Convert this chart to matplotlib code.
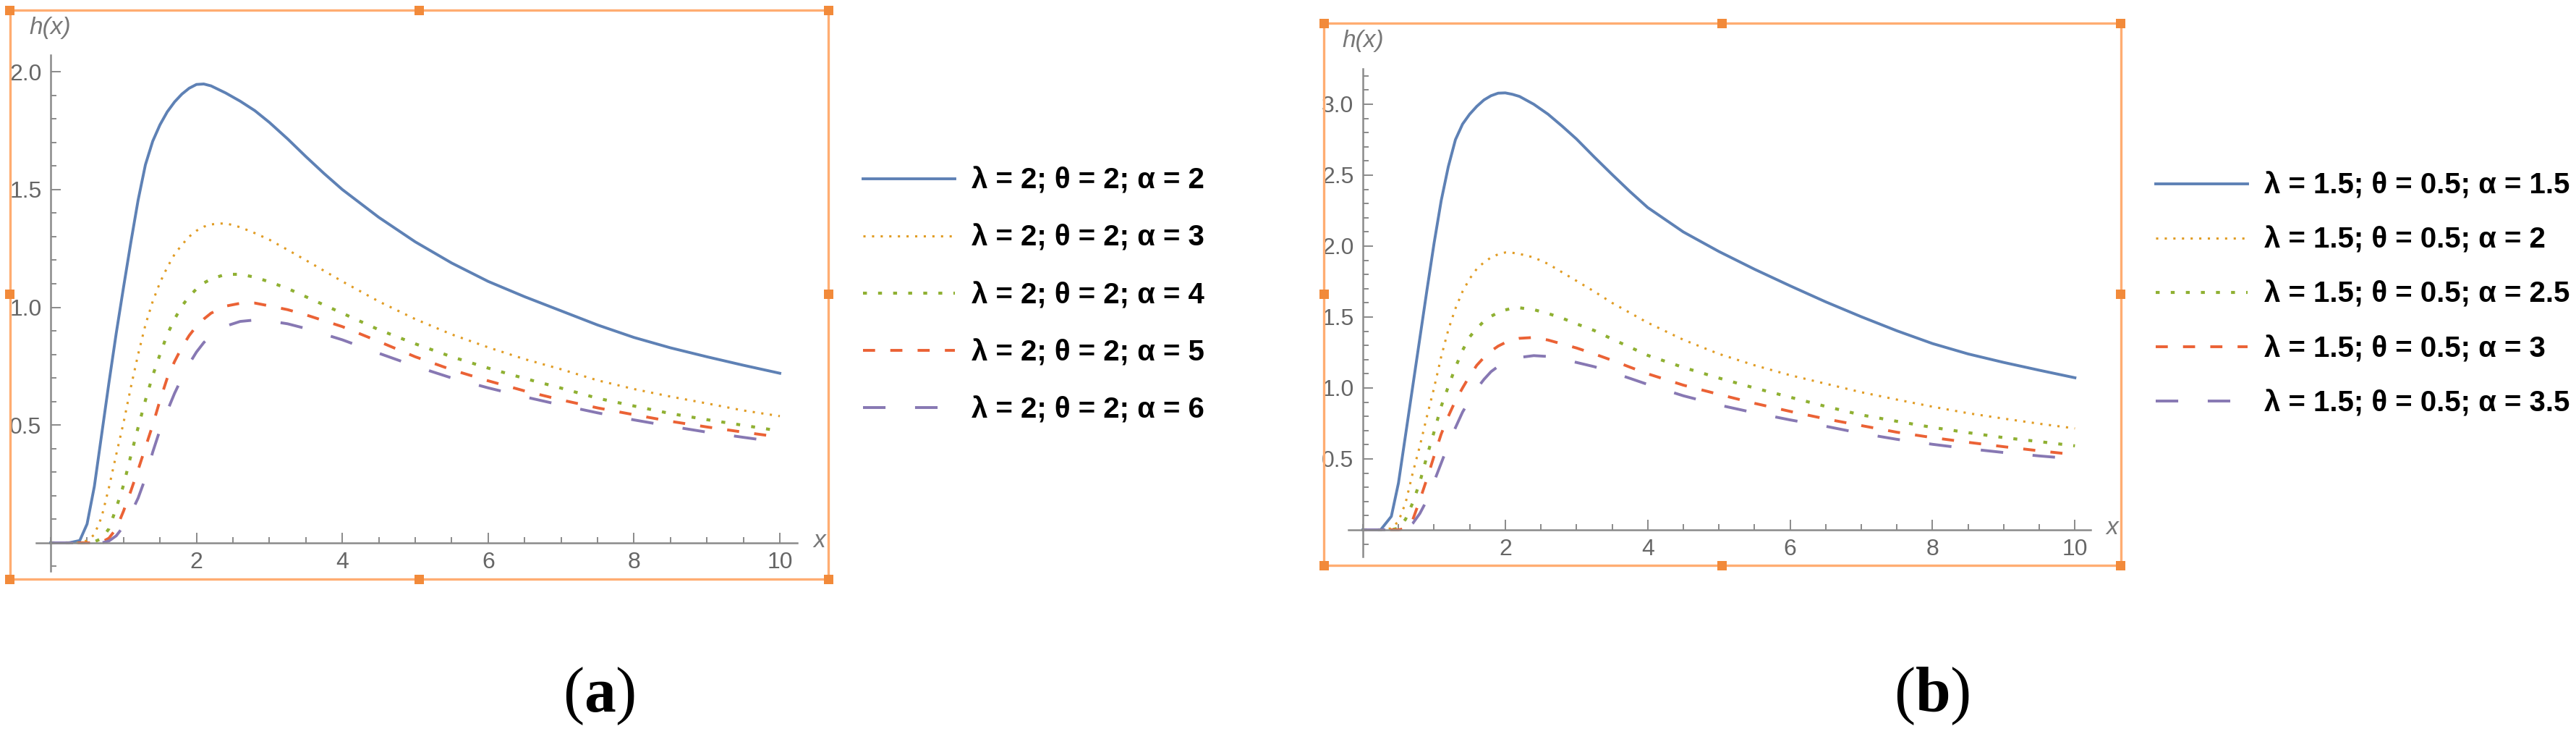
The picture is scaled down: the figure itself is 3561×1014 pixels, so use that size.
import matplotlib
matplotlib.use("Agg")
import matplotlib.pyplot as plt
from matplotlib.patches import Rectangle
from matplotlib.ticker import FixedLocator, MultipleLocator, FormatStrFormatter

plt.rcParams["font.family"] = ["Liberation Sans", "DejaVu Sans"]
plt.rcParams["mathtext.fontset"] = "custom"
plt.rcParams["mathtext.rm"] = "Liberation Serif"
plt.rcParams["mathtext.bf"] = "Liberation Serif:bold"

W, H = 3562, 1014

x_vals = [0, 0.25, 0.4, 0.5, 0.6, 0.7, 0.8, 0.9,
          1.0, 1.1, 1.2, 1.3, 1.4, 1.5, 1.6, 1.7, 1.8, 1.9,
          2.0, 2.1, 2.2, 2.4, 2.6, 2.8, 3.0, 3.25, 3.5, 3.75,
          4, 4.5, 5, 5.5, 6, 6.5, 7, 7.5, 8, 8.5, 9, 9.5, 10]

# panel (a): lambda = 2, theta = 2
h_a_alpha2 = [0, 0, 0.01, 0.08, 0.24, 0.46, 0.68, 0.89,
              1.085, 1.275, 1.455, 1.605, 1.705, 1.775, 1.83, 1.872, 1.905, 1.93,
              1.946, 1.948, 1.94, 1.91, 1.875, 1.835, 1.785, 1.715, 1.64, 1.568,
              1.50, 1.382, 1.278, 1.188, 1.11, 1.045, 0.985, 0.925, 0.872, 0.828, 0.79, 0.754, 0.72]
h_a_alpha3 = [0, 0, 0, 0.01, 0.035, 0.11, 0.235, 0.375,
              0.51, 0.66, 0.80, 0.925, 1.025, 1.105, 1.17, 1.225, 1.265, 1.30,
              1.325, 1.342, 1.352, 1.357, 1.34, 1.315, 1.287, 1.244, 1.20, 1.155,
              1.11, 1.025, 0.95, 0.885, 0.83, 0.78, 0.737, 0.69, 0.653, 0.621, 0.592, 0.562, 0.538]
h_a_alpha4 = [0, 0, 0, 0, 0.005, 0.018, 0.06, 0.148,
              0.245, 0.37, 0.49, 0.605, 0.71, 0.80, 0.885, 0.95, 1.005, 1.046,
              1.078, 1.103, 1.12, 1.14, 1.14, 1.128, 1.108, 1.08, 1.045, 1.01,
              0.975, 0.905, 0.845, 0.79, 0.742, 0.698, 0.657, 0.614, 0.581, 0.549, 0.523, 0.499, 0.475]
h_a_alpha5 = [0, 0, 0, 0, 0, 0.003, 0.02, 0.06,
              0.135, 0.22, 0.31, 0.405, 0.50, 0.605, 0.70, 0.77, 0.83, 0.88,
              0.92, 0.95, 0.975, 1.005, 1.017, 1.018, 1.006, 0.99, 0.968, 0.943,
              0.918, 0.855, 0.79, 0.735, 0.688, 0.645, 0.607, 0.573, 0.544, 0.516, 0.492, 0.47, 0.449]
h_a_alpha6 = [0, 0, 0, 0, 0, 0, 0.008, 0.03,
              0.07, 0.125, 0.19, 0.275, 0.385, 0.48, 0.56, 0.635, 0.70, 0.76,
              0.81, 0.85, 0.88, 0.92, 0.94, 0.946, 0.942, 0.93, 0.91, 0.886,
              0.862, 0.805, 0.75, 0.70, 0.658, 0.62, 0.585, 0.552, 0.522, 0.495, 0.47, 0.448, 0.427]
labels_a = ["λ = 2; θ = 2; α = 2", "λ = 2; θ = 2; α = 3", "λ = 2; θ = 2; α = 4",
            "λ = 2; θ = 2; α = 5", "λ = 2; θ = 2; α = 6"]

# panel (b): lambda = 1.5, theta = 0.5
h_b_alpha15 = [0, 0, 0.095, 0.33, 0.67, 1.01, 1.35, 1.69,
               2.02, 2.32, 2.56, 2.75, 2.86, 2.93, 2.985, 3.03, 3.06, 3.078,
               3.08, 3.07, 3.055, 3.0, 2.93, 2.845, 2.755, 2.628, 2.505, 2.385,
               2.272, 2.1, 1.962, 1.837, 1.72, 1.607, 1.502, 1.403, 1.313, 1.24, 1.18, 1.125, 1.072]
h_b_alpha2 = [0, 0, 0.01, 0.06, 0.19, 0.40, 0.59, 0.80,
              1.0, 1.22, 1.41, 1.56, 1.68, 1.77, 1.84, 1.885, 1.92, 1.942,
              1.955, 1.953, 1.945, 1.92, 1.875, 1.815, 1.755, 1.68, 1.60, 1.53,
              1.46, 1.34, 1.24, 1.16, 1.09, 1.03, 0.97, 0.918, 0.868, 0.822, 0.784, 0.748, 0.715]
h_b_alpha25 = [0, 0, 0, 0.012, 0.075, 0.19, 0.335, 0.52,
               0.69, 0.87, 1.01, 1.145, 1.265, 1.36, 1.42, 1.47, 1.505, 1.532,
               1.55, 1.562, 1.565, 1.552, 1.525, 1.492, 1.452, 1.405, 1.345, 1.288,
               1.23, 1.145, 1.07, 1.0, 0.935, 0.87, 0.81, 0.765, 0.722, 0.685, 0.65, 0.622, 0.592]
h_b_alpha3 = [0, 0, 0, 0, 0.01, 0.07, 0.21, 0.36,
              0.52, 0.675, 0.80, 0.91, 1.0, 1.085, 1.16, 1.215, 1.26, 1.295,
              1.32, 1.338, 1.35, 1.356, 1.338, 1.31, 1.282, 1.24, 1.195, 1.147,
              1.10, 1.02, 0.955, 0.892, 0.835, 0.782, 0.735, 0.688, 0.65, 0.617, 0.586, 0.557, 0.53]
h_b_alpha35 = [0, 0, 0, 0, 0, 0.045, 0.115, 0.21,
               0.34, 0.47, 0.60, 0.72, 0.83, 0.915, 0.995, 1.06, 1.115, 1.152,
               1.18, 1.2, 1.215, 1.228, 1.222, 1.203, 1.18, 1.15, 1.11, 1.068,
               1.025, 0.945, 0.88, 0.825, 0.775, 0.73, 0.68, 0.638, 0.603, 0.572, 0.545, 0.521, 0.50]
labels_b = ["λ = 1.5; θ = 0.5; α = 1.5", "λ = 1.5; θ = 0.5; α = 2", "λ = 1.5; θ = 0.5; α = 2.5",
            "λ = 1.5; θ = 0.5; α = 3", "λ = 1.5; θ = 0.5; α = 3.5"]

colors = ["#5E81B5", "#E19C24", "#8FB032", "#EB6235", "#8778B3"]
styles = [
    dict(lw=2.8),
    dict(lw=2.2, dashes=(1.0, 2.9)),
    dict(lw=3.0, dashes=(1.3, 3.7)),
    dict(lw=2.8, dashes=(4.3, 5.4)),
    dict(lw=2.8, dashes=(8.0, 10.5)),
]
axis_grey = "#8a8a8a"


def fx(px):
    return px / W


def fy(py):
    return 1 - py / H


def add_frame(fig, left, top, right, bottom):
    fig.add_artist(Rectangle((fx(left), fy(bottom)), (right - left) / W, (bottom - top) / H,
                             transform=fig.transFigure, fill=False, ec="#FFAD72", lw=2.4))
    s = 13
    xm, ym = (left + right) / 2, (top + bottom) / 2
    for hx in (left, xm, right):
        for hy in (top, ym, bottom):
            if hx == xm and hy == ym:
                continue
            fig.add_artist(Rectangle((fx(hx - s / 2), fy(hy + s / 2)), s / W, s / H,
                                     transform=fig.transFigure, fc="#F28A3A", ec="none"))


def panel(fig, series, labels, box, xlim, ylim, ymajor, hx_pos, xl_pos, leg_pos, spacing):
    left, top, right, bottom = box
    ax = fig.add_axes([fx(left), fy(bottom), (right - left) / W, (bottom - top) / H])
    ax.patch.set_visible(False)
    ax.set_xlim(xlim)
    ax.set_ylim(ylim)

    handles = []
    for ys, c, st in zip(series, colors, styles):
        line, = ax.plot(x_vals, ys, color=c, **st)
        handles.append(line)

    for side in ("top", "right"):
        ax.spines[side].set_visible(False)
    ax.spines["left"].set_position(("data", 0))
    ax.spines["bottom"].set_position(("data", 0))
    for side in ("left", "bottom"):
        ax.spines[side].set_color(axis_grey)
        ax.spines[side].set_linewidth(1.8)

    ax.xaxis.set_major_locator(FixedLocator([2, 4, 6, 8, 10]))
    ax.xaxis.set_minor_locator(MultipleLocator(0.5))
    ax.yaxis.set_major_locator(FixedLocator(ymajor))
    ax.yaxis.set_minor_locator(MultipleLocator(0.1))
    ax.yaxis.set_major_formatter(FormatStrFormatter("%.1f"))
    ax.tick_params(which="both", direction="in", color=axis_grey, width=1.4,
                   labelsize=23, labelcolor="#666666")
    ax.tick_params(which="major", length=10)
    ax.tick_params(which="minor", length=5.5)
    ax.tick_params(axis="y", pad=9)
    ax.tick_params(axis="x", pad=8.5)

    fig.text(fx(hx_pos[0]), fy(hx_pos[1]), "h(x)", style="italic", fontsize=24,
             color="#777777", ha="left", va="center")
    fig.text(fx(xl_pos[0]), fy(xl_pos[1]), "x", style="italic", fontsize=24,
             color="#777777", ha="center", va="center")

    ax.legend(handles, labels, loc="center left",
              bbox_to_anchor=(fx(leg_pos[0]), fy(leg_pos[1])), bbox_transform=fig.transFigure,
              frameon=False, prop={"family": "Liberation Sans", "weight": "bold", "size": 29},
              handlelength=3.15, handletextpad=0.57, labelspacing=spacing,
              borderpad=0, borderaxespad=0)
    return ax


fig = plt.figure(figsize=(W / 100, H / 100), dpi=100)

add_frame(fig, 14, 14, 1145, 800)
add_frame(fig, 1830, 32, 2932, 781)

panel(fig, [h_a_alpha2, h_a_alpha3, h_a_alpha4, h_a_alpha5, h_a_alpha6], labels_a,
      box=(49.8, 76, 1102, 789), xlim=(-0.2, 10.238), ylim=(-0.12, 2.071),
      ymajor=[0.5, 1.0, 1.5, 2.0], hx_pos=(40, 38), xl_pos=(1133, 748),
      leg_pos=(1193, 408), spacing=1.02)

panel(fig, [h_b_alpha15, h_b_alpha2, h_b_alpha25, h_b_alpha3, h_b_alpha35], labels_b,
      box=(1864, 95, 2890, 769), xlim=(-0.203, 10.22), ylim=(-0.189, 3.25),
      ymajor=[0.5, 1.0, 1.5, 2.0, 2.5, 3.0], hx_pos=(1855, 56), xl_pos=(2920, 730),
      leg_pos=(2980, 407), spacing=0.92)

fig.text(fx(828), fy(983), r"($\mathbf{a}$)", family="Liberation Serif", fontsize=63,
         ha="center", va="baseline")
fig.text(fx(2671), fy(983), r"($\mathbf{b}$)", family="Liberation Serif", fontsize=63,
         ha="center", va="baseline")

fig.savefig("out.png", dpi=100)
plt.close(fig)
